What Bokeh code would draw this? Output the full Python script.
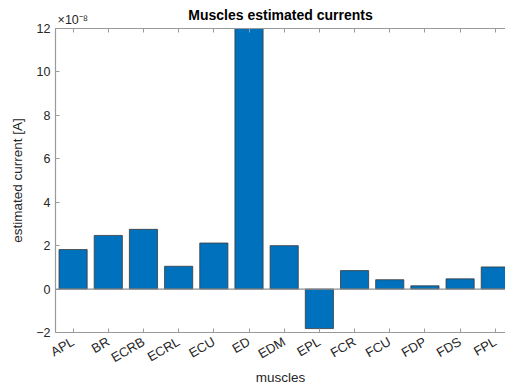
import numpy as np
from bokeh.plotting import figure
from bokeh.models import Range1d, FixedTicker, LinearAxis, Span, ColumnDataSource
from bokeh.embed import file_html
from bokeh.resources import INLINE

# ---- data (currents in units of 1e-8 A) ----
muscles = ["APL", "BR", "ECRB", "ECRL", "ECU", "ED", "EDM", "EPL", "FCR", "FCU", "FDP", "FDS", "FPL"]
currents_e8 = [1.82, 2.47, 2.75, 1.05, 2.12, 13.0, 2.0, -1.82, 0.85, 0.43, 0.15, 0.47, 1.02]
y_ticks = [-2, 0, 2, 4, 6, 8, 10, 12]
title_text = "Muscles estimated currents"
exponent_text = "×10⁻⁸"

positions = list(range(1, len(muscles) + 1))
FONT = "Liberation Sans"
GREY_AX = "#9a9a9a"
TXT = "#262626"
X_START = 0.5

src = ColumnDataSource(dict(x=positions, top=currents_e8, name=muscles))

p = figure(width=505, height=387, output_backend="svg", toolbar_location=None,
           x_range=Range1d(X_START, 13.29), y_range=Range1d(-2, 12),
           min_border_left=55, min_border_top=28, min_border_bottom=51, min_border_right=0,
           x_axis_location=None, y_axis_location=None)
p.outline_line_color = None
p.grid.visible = False
p.background_fill_color = "white"
p.border_fill_color = "white"

p.vbar(x="x", top="top", bottom=0, width=0.8, source=src,
       fill_color="#0072BD", line_color="#3a3a3a", line_width=0.8)

p.add_layout(Span(location=0, dimension="width", line_color="#8f8f8f", line_width=1.2))

def style(ax, size="12.5px"):
    ax.axis_line_color = GREY_AX
    ax.axis_line_width = 1.2
    ax.major_tick_line_color = GREY_AX
    ax.major_tick_in = 4
    ax.major_tick_out = 0
    ax.minor_tick_line_color = None
    ax.major_label_text_font = FONT
    ax.major_label_text_color = TXT
    ax.major_label_text_font_size = size
    ax.major_label_standoff = 5
    ax.axis_label_text_font = FONT
    ax.axis_label_text_font_style = "normal"
    ax.axis_label_text_font_size = "13.5px"
    ax.axis_label_text_color = TXT

bottom = LinearAxis(ticker=FixedTicker(ticks=positions),
                    major_label_overrides={i: m for i, m in zip(positions, muscles)},
                    axis_label="muscles")
style(bottom, "13px")
bottom.major_label_orientation = np.pi / 6
bottom.major_label_standoff = 8
bottom.axis_label_standoff = -5
p.add_layout(bottom, "below")

# top axis: tick marks, the exponent note (padded so it starts at the frame edge) and the title
pad = "\u00a0" * 10
top_overrides = {X_START: pad + exponent_text}
top_overrides.update({i: "" for i in positions})
top = LinearAxis(ticker=FixedTicker(ticks=[X_START] + positions),
                 major_label_overrides=top_overrides, axis_label=title_text)
style(top)
top.major_label_standoff = 2
top.axis_label_text_font_style = "bold"
top.axis_label_text_font_size = "14px"
top.axis_label_text_color = "black"
top.axis_label_standoff = -13
p.add_layout(top, "above")

left = LinearAxis(ticker=FixedTicker(ticks=y_ticks), axis_label="estimated current [A]")
style(left)
left.axis_label_standoff = 8
p.add_layout(left, "left")

open("out.html", "w").write(file_html(p, INLINE))
